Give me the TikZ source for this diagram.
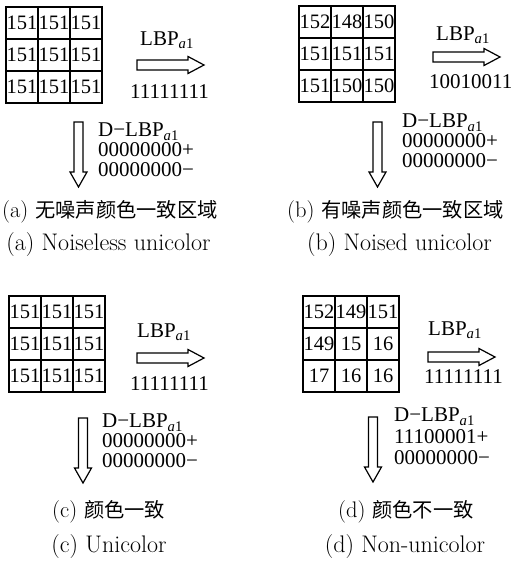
\documentclass[tikz,border=0pt]{standalone}
\usepackage{fontspec}
\newfontfamily\tnr{Liberation Serif}
\newfontfamily\cjk[Scale=0.9]{Noto Sans CJK SC}
\tikzset{
  cell/.style={draw, line width=1.1pt, minimum width=32pt, minimum height=32pt, inner sep=0pt, font=\tnr\fontsize{20.5}{20.5}\selectfont},
  lbl/.style={anchor=base west, inner sep=0pt, font=\tnr\fontsize{21}{21}\selectfont},
  dlbl/.style={anchor=north west, inner sep=0pt, align=left, font=\tnr\fontsize{21}{20}\selectfont},
  captext/.style={anchor=center, inner sep=0pt, font=\fontsize{24}{24}\selectfont},
  capcjk/.style={anchor=west, inner sep=0pt, font=\fontsize{22.5}{22.5}\selectfont},
  rarrow/.pic={\draw[line width=1.2pt] (0,-5)--(51,-5)--(51,-8.5)--(67,0)--(51,8.5)--(51,5)--(0,5)--cycle;},
  darrow/.pic={\draw[line width=1.2pt] (-4.5,0)--(-4.5,50)--(-8.5,50)--(0,65)--(8.5,50)--(4.5,50)--(4.5,0)--cycle;}
}
\newcommand{\lbpa}{LBP\textsubscript{\textit{a}1}}
\begin{document}
\begin{tikzpicture}[x=1pt,y=-1pt]
\useasboundingbox (0,0) rectangle (512,562);
% ---------- (a)
\node[cell] (a11) at (22,23) {151};
\node[cell] (a12) at (54,23) {151};
\node[cell] (a13) at (86,23) {151};
\node[cell] (a21) at (22,55) {151};
\node[cell] (a22) at (54,55) {151};
\node[cell] (a23) at (86,55) {151};
\node[cell] (a31) at (22,87) {151};
\node[cell] (a32) at (54,87) {151};
\node[cell] (a33) at (86,87) {151};
\draw[line width=1.8pt] (a11.north west) rectangle (a33.south east);
\node[lbl] (alb) at (140,45) {\lbpa};
\pic at (137,65) {rarrow};
\node[lbl] (acode) at (130,98) {11111111};
\pic at (78.5,122) {darrow};
\node[dlbl] (ad) at (98,123) {D−\lbpa\\00000000+\\00000000−};
\node[capcjk] (acap1) at (2,212) {(a) {\cjk 无噪声颜色一致区域}};
\node[captext] (acap2) at (108.5,245) {(a) Noiseless unicolor};
% ---------- (b)
\node[cell] (b11) at (315,22) {152};
\node[cell] (b12) at (347,22) {148};
\node[cell] (b13) at (379,22) {150};
\node[cell] (b21) at (315,54) {151};
\node[cell] (b22) at (347,54) {151};
\node[cell] (b23) at (379,54) {151};
\node[cell] (b31) at (315,86) {151};
\node[cell] (b32) at (347,86) {150};
\node[cell] (b33) at (379,86) {150};
\draw[line width=1.8pt] (b11.north west) rectangle (b33.south east);
\node[lbl] (blb) at (436,40) {\lbpa};
\pic at (433,57) {rarrow};
\node[lbl] (bcode) at (429,88) {10010011};
\pic at (377.5,122) {darrow};
\node[dlbl] (bd) at (402,114) {D−\lbpa\\00000000+\\00000000−};
\node[capcjk] (bcap1) at (287,212) {(b) {\cjk 有噪声颜色一致区域}};
\node[captext] (bcap2) at (399.5,245) {(b) Noised unicolor};
% ---------- (c)
\node[cell] (c11) at (25,312) {151};
\node[cell] (c12) at (57,312) {151};
\node[cell] (c13) at (89,312) {151};
\node[cell] (c21) at (25,344) {151};
\node[cell] (c22) at (57,344) {151};
\node[cell] (c23) at (89,344) {151};
\node[cell] (c31) at (25,376) {151};
\node[cell] (c32) at (57,376) {151};
\node[cell] (c33) at (89,376) {151};
\draw[line width=1.8pt] (c11.north west) rectangle (c33.south east);
\node[lbl] (clb) at (137,337) {\lbpa};
\pic at (137,358) {rarrow};
\node[lbl] (ccode) at (130,390) {11111111};
\pic at (83,418) {darrow};
\node[dlbl] (cd) at (102,414) {D−\lbpa\\00000000+\\00000000−};
\node[capcjk] (ccap1) at (52,512) {(c) {\cjk 颜色一致}};
\node[captext] (ccap2) at (109,547) {(c) Unicolor};
% ---------- (d)
\node[cell] (d11) at (319,312) {152};
\node[cell] (d12) at (351,312) {149};
\node[cell] (d13) at (383,312) {151};
\node[cell] (d21) at (319,344) {149};
\node[cell] (d22) at (351,344) {15};
\node[cell] (d23) at (383,344) {16};
\node[cell] (d31) at (319,376) {17};
\node[cell] (d32) at (351,376) {16};
\node[cell] (d33) at (383,376) {16};
\draw[line width=1.8pt] (d11.north west) rectangle (d33.south east);
\node[lbl] (dlb) at (428,335) {\lbpa};
\pic at (428,357) {rarrow};
\node[lbl] (dcode) at (424,383) {11111111};
\pic at (373,417) {darrow};
\node[dlbl, font=\tnr\fontsize{21}{21.5}\selectfont] (dd) at (394,408) {D−\lbpa\\11100001+\\00000000−};
\node[capcjk] (dcap1) at (338,512) {(d) {\cjk 颜色不一致}};
\node[captext] (dcap2) at (405,547) {(d) Non-unicolor};
\end{tikzpicture}
\end{document}
